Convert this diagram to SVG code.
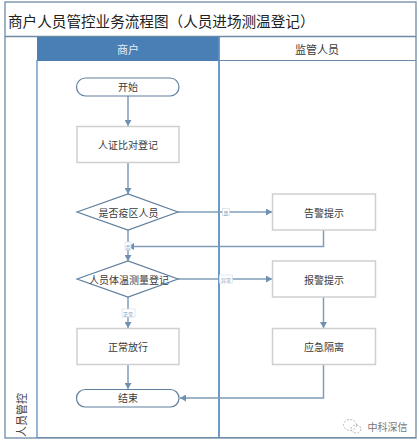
<svg xmlns="http://www.w3.org/2000/svg" width="420" height="445" viewBox="0 0 420 445">
<style>
text{font-family:"Noto Sans CJK SC","Liberation Sans",sans-serif;text-anchor:middle;dominant-baseline:central;fill:#3a3a3a}
.box{fill:#fff;stroke:#cfcfcf;stroke-width:1.5}
.term{fill:#fff;stroke:#5f7f9e;stroke-width:1.2}
.dia{fill:#fff;stroke:#5f7f9e;stroke-width:1.2}
.n{font-size:10px}
.h{font-size:11px}
.c{fill:none;stroke:#7f9cb8;stroke-width:1.5}
.lb{fill:#fff;stroke:#d5e0ea;stroke-width:.7}
.lt{font-size:5px;fill:#7f9cb8}
</style>
<defs><marker id="a" markerUnits="userSpaceOnUse" markerWidth="7" markerHeight="7" refX="6" refY="3.5" orient="auto"><path d="M0,0L6,3.5L0,7z" fill="#6f90b0"/></marker></defs>
<rect width="420" height="445" fill="#fff"/>
<g id="frame" fill="none">
<rect x="5" y="2" width="411" height="436" fill="#fff" stroke="#6d8ba5" stroke-width="1.3"/>
<path d="M5 36.500H416" stroke="#6d8ba5" stroke-width="1.3"/>
<rect x="37" y="37" width="182" height="24" fill="#4a7fb5"/>
<path d="M219 60.500H416" stroke="#6d8ba5" stroke-width="1.2"/>
<path d="M37 60V438" stroke="#5b8fc2" stroke-width="1.3"/>
<path d="M219 37V438" stroke="#5b8fc2" stroke-width="1.8"/>
<path d="M37 437.500H416" stroke="#6d8ba5" stroke-width="1.2"/>
</g>
<text x="8" y="20" style="text-anchor:start;font-size:14.600px;fill:#222">商户人员管控业务流程图（人员进场测温登记）</text>
<text x="128" y="49" class="h" style="fill:#e8eef5">商户</text>
<text x="317" y="49" class="h">监管人员</text>
<text x="21" y="437" class="h" style="text-anchor:start" transform="rotate(-90 21 437)">人员管控</text>
<g id="connectors">
<path class="c" d="M128 96V126" marker-end="url(#a)"/>
<path class="c" d="M128 162V194" marker-end="url(#a)"/>
<path class="c" d="M178 212H272" marker-end="url(#a)"/>
<path class="c" d="M128 230V261" marker-end="url(#a)"/>
<path class="c" d="M323.500 230V246.500H128" marker-end="url(#a)"/>
<path class="c" d="M178 279H272" marker-end="url(#a)"/>
<path class="c" d="M323.500 297V328" marker-end="url(#a)"/>
<path class="c" d="M128 297V328" marker-end="url(#a)"/>
<path class="c" d="M128 364V389" marker-end="url(#a)"/>
<path class="c" d="M323.500 364V398H180" marker-end="url(#a)"/>
<rect class="lb" x="222.500" y="208.500" width="7" height="7"/><text class="lt" x="226" y="212">是</text>
<rect class="lb" x="125" y="242" width="6" height="8"/><text class="lt" x="128" y="246">否</text>
<rect class="lb" x="219.500" y="275" width="13" height="8"/><text class="lt" x="226" y="279">异常</text>
<rect class="lb" x="122" y="309" width="13" height="8"/><text class="lt" x="128" y="313">正常</text>
</g>
<g id="start"><rect class="term" x="76.500" y="78" width="102.500" height="18" rx="9"/><text class="n" x="128" y="86.500">开始</text></g>
<g id="register"><rect class="box" x="77" y="126.500" width="102" height="36"/><text class="n" x="128" y="144.500">人证比对登记</text></g>
<g id="d1"><path class="dia" d="M77 212L128 194L178 212L128 230z"/><text class="n" x="128.500" y="212">是否疫区人员</text></g>
<g id="warn"><rect class="box" x="272.500" y="194" width="103" height="36"/><text class="n" x="324" y="212">告警提示</text></g>
<g id="d2"><path class="dia" d="M77 279L128 261L178 279L128 297z"/><text class="n" x="129" y="279">人员体温测量登记</text></g>
<g id="alarm"><rect class="box" x="272.500" y="261" width="103" height="36"/><text class="n" x="324" y="279">报警提示</text></g>
<g id="pass"><rect class="box" x="77" y="328.500" width="102" height="36"/><text class="n" x="128" y="346.500">正常放行</text></g>
<g id="isolate"><rect class="box" x="272.500" y="328.500" width="103" height="36"/><text class="n" x="324" y="346.500">应急隔离</text></g>
<g id="end"><rect class="term" x="76.500" y="389.500" width="102.500" height="17.500" rx="8.700"/><text class="n" x="128" y="397.500">结束</text></g>
<g id="watermark" fill="none" stroke="#b5b5b5" stroke-width="1" stroke-dasharray="2 1.500"><ellipse cx="350" cy="425" rx="6.500" ry="5.500"/><ellipse cx="356" cy="429" rx="5" ry="4"/></g>
<text x="387.500" y="426" style="font-size:10px;fill:#777">中科深信</text>
</svg>
